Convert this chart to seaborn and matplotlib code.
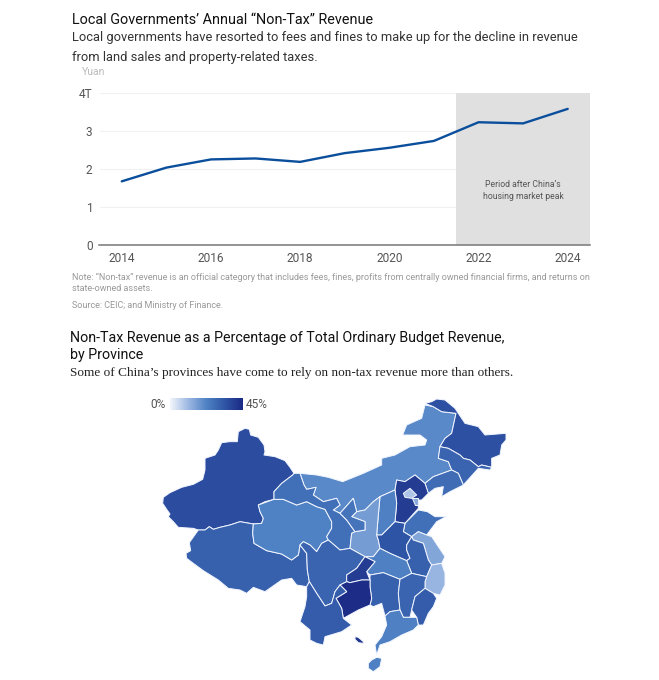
import matplotlib
matplotlib.use("Agg")
import matplotlib.pyplot as plt
import numpy as np
import pandas as pd
import seaborn as sns
from matplotlib.patches import Polygon

W, H = 659, 680

years = [2014, 2015, 2016, 2017, 2018, 2019, 2020, 2021, 2022, 2023, 2024]
revenue = [1.67, 2.03, 2.245, 2.27, 2.18, 2.41, 2.55, 2.73, 3.22, 3.19, 3.57]
peak_year = 2021.5
x_ticks = [2014, 2016, 2018, 2020, 2022, 2024]
y_ticks = [0, 1, 2, 3, 4]
y_labels = ["0", "1", "2", "3", "4T"]

# share of non-tax revenue, percent (read from the shade of each province)
shares = {
    "Inner Mongolia": 21, "Xinjiang": 36, "Tibet": 31, "Qinghai": 22.5, "Gansu": 27,
    "Heilongjiang": 35, "Jilin": 30, "Liaoning": 28, "Hebei": 40, "Beijing": 9,
    "Tianjin": 14, "Shanxi": 23, "Shaanxi": 17, "Ningxia": 26, "Shandong": 27,
    "Henan": 34, "Jiangsu": 15, "Anhui": 31, "Zhejiang": 12, "Hubei": 23,
    "Hunan": 31, "Jiangxi": 30, "Fujian": 32, "Guangdong": 23, "Hainan": 23,
    "Sichuan": 30, "Chongqing": 40, "Guizhou": 44, "Yunnan": 32, "Beihai": 42,
}

# province outlines, traced in map units
xinjiang = [(285, 115), (298, 118), (302, 135), (325, 142), (342, 165), (345, 185), (342, 195), (375, 200),
            (405, 212), (420, 232), (432, 250), (428, 255), (395, 280), (372, 305), (372, 328), (345, 335),
            (325, 345), (330, 365), (340, 385), (335, 400), (310, 402), (270, 395), (240, 405), (210, 412),
            (190, 418), (178, 410), (165, 420), (145, 420), (130, 415), (85, 412), (70, 395), (55, 380),
            (60, 372), (50, 358), (38, 340), (40, 322), (60, 308), (95, 292), (130, 283), (158, 268),
            (165, 240), (165, 205), (195, 195), (205, 180), (215, 158), (240, 155), (262, 155), (265, 125)]
tibet = [(108, 490), (122, 482), (118, 458), (145, 420), (165, 420), (178, 410), (190, 418), (210, 412), (240, 405),
         (270, 395), (310, 402), (308, 430), (312, 460), (350, 482), (395, 492), (425, 510), (445, 495),
         (450, 465), (470, 490), (472, 540), (478, 575), (470, 590), (440, 585), (425, 565), (395, 570),
         (345, 605), (310, 592), (290, 610), (270, 600), (235, 595), (205, 570), (160, 542), (130, 520),
         (110, 505)]
qinghai = [(325, 345), (372, 328), (400, 328), (440, 345), (470, 335), (500, 350), (525, 358), (545, 395),
           (545, 415), (530, 440), (535, 450), (515, 460), (500, 485), (480, 465), (460, 455), (450, 465),
           (445, 495), (425, 510), (395, 492), (350, 482), (312, 460), (308, 430), (310, 402), (335, 400),
           (340, 385), (330, 365)]
gansu = [(432, 250), (450, 250), (462, 285), (470, 298), (498, 292), (490, 315), (520, 335), (560, 325),
         (570, 345), (550, 360), (570, 370), (590, 390), (615, 425), (605, 430), (600, 475), (570, 480),
         (535, 450), (530, 440), (545, 415), (545, 395), (525, 358), (500, 350), (470, 335), (440, 345),
         (400, 328), (372, 328), (372, 305), (395, 280), (428, 255)]
inner_mongolia = [(450, 250), (500, 255), (535, 262), (578, 275), (640, 250), (695, 225), (695, 205), (735, 195),
                  (780, 170), (825, 165), (830, 150), (810, 135), (758, 135), (770, 105), (815, 85), (825, 45),
                  (850, 50), (875, 65), (918, 70), (905, 130), (885, 145), (870, 170), (865, 205), (895, 215),
                  (905, 240), (850, 260), (825, 280), (795, 255), (765, 275), (740, 270), (735, 300), (690, 320),
                  (670, 335), (645, 360), (620, 365), (610, 325), (570, 370), (550, 360), (570, 345), (560, 325),
                  (520, 335), (490, 315), (498, 292), (470, 298), (462, 285)]
heilongjiang = [(825, 40), (845, 35), (860, 27), (885, 30), (915, 55), (945, 100), (985, 110), (1005, 135), (1068, 130),
                (1068, 150), (1055, 165), (1050, 195), (1025, 205), (1025, 232), (995, 225), (985, 230), (960, 210),
                (940, 205), (930, 195), (895, 175), (870, 170), (885, 145), (905, 130), (918, 70), (875, 65), (850, 50)]
jilin = [(870, 170), (895, 175), (930, 195), (940, 205), (960, 210), (985, 230), (995, 225), (1025, 232), (1020, 240),
         (985, 235), (940, 285), (925, 250), (905, 240), (895, 215), (865, 205)]
liaoning = [(825, 280), (850, 260), (905, 240), (925, 250), (940, 285), (900, 305), (875, 320), (880, 290),
            (855, 295), (835, 310)]
hebei = [(740, 270), (765, 275), (795, 255), (825, 280), (835, 310), (815, 330), (805, 330), (805, 355),
         (765, 400), (735, 395), (740, 340), (735, 300)]
beijing = [(760, 310), (780, 295), (800, 315), (785, 325), (765, 322)]
tianjin = [(785, 325), (805, 325), (805, 345), (795, 345)]
shanxi = [(690, 320), (735, 300), (740, 340), (735, 395), (695, 435), (680, 435), (685, 375)]
shaanxi = [(690, 320), (685, 375), (680, 435), (685, 450), (690, 475), (670, 500), (645, 500), (600, 475), (605, 430),
           (615, 425), (645, 420), (645, 395), (605, 380), (620, 365), (645, 360), (670, 335)]
ningxia = [(570, 370), (610, 325), (620, 365), (605, 380), (645, 395), (645, 420), (615, 425), (590, 390)]
shandong = [(765, 400), (805, 360), (832, 365), (855, 380), (888, 380), (860, 395), (830, 435), (805, 425),
            (785, 440), (760, 425)]
henan = [(680, 435), (695, 435), (735, 395), (765, 400), (760, 425), (785, 440), (770, 465), (770, 480),
         (780, 505), (770, 512), (720, 490), (690, 475), (685, 450)]
jiangsu = [(785, 440), (805, 425), (830, 435), (845, 440), (885, 500), (875, 520), (845, 525), (835, 510),
           (820, 460), (790, 450)]
anhui = [(770, 465), (785, 440), (790, 450), (820, 460), (835, 510), (845, 525), (830, 560), (785, 550), (770, 512),
         (780, 505), (770, 480)]
zhejiang = [(845, 525), (875, 520), (885, 550), (885, 585), (870, 615), (850, 610), (825, 595), (825, 575), (830, 560)]
hubei = [(645, 500), (670, 500), (690, 475), (720, 490), (770, 512), (785, 550), (750, 568), (700, 548),
         (660, 555), (650, 545), (675, 515)]
hunan = [(660, 555), (700, 548), (750, 568), (745, 610), (750, 660), (720, 665), (705, 678), (695, 640),
         (670, 650), (660, 645), (665, 625), (660, 590), (660, 570)]
jiangxi = [(750, 568), (785, 550), (830, 560), (825, 575), (825, 595), (795, 620), (785, 660), (780, 682),
           (760, 682), (750, 660), (745, 610)]
fujian = [(825, 595), (850, 610), (860, 625), (850, 650), (835, 670), (820, 705), (805, 705), (800, 682),
          (785, 660), (795, 620)]
guangdong = [(705, 678), (720, 665), (750, 660), (760, 682), (780, 682), (800, 682), (805, 705), (790, 720),
             (755, 735), (720, 755), (690, 765), (680, 795), (675, 765), (695, 740), (710, 705)]
hainan = [(665, 810), (680, 802), (695, 805), (690, 830), (670, 845), (655, 835), (655, 820)]
beihai = [(615, 740), (625, 742), (640, 755), (640, 760), (625, 758), (615, 748)]
sichuan = [(450, 465), (460, 455), (480, 465), (500, 485), (515, 460), (535, 450), (570, 480), (600, 475),
           (645, 500), (620, 535), (590, 555), (590, 575), (570, 585), (555, 605), (545, 640), (525, 648),
           (500, 610), (478, 575), (472, 540), (470, 490)]
chongqing = [(645, 500), (675, 515), (650, 545), (660, 570), (635, 570), (600, 578), (590, 575), (590, 555), (620, 535)]
guizhou = [(590, 575), (600, 578), (635, 570), (660, 570), (660, 590), (665, 625), (660, 645), (625, 660), (580, 685),
           (575, 655), (558, 625), (590, 605), (570, 585)]
yunnan = [(470, 590), (478, 575), (500, 610), (525, 648), (545, 640), (555, 605), (570, 585), (590, 605),
          (558, 625), (575, 655), (580, 685), (605, 705), (575, 725), (525, 740), (520, 765), (500, 760),
          (480, 750), (480, 720), (450, 695), (465, 650), (470, 620)]

outlines = {
    "Inner Mongolia": inner_mongolia, "Xinjiang": xinjiang, "Tibet": tibet, "Qinghai": qinghai, "Gansu": gansu,
    "Heilongjiang": heilongjiang, "Jilin": jilin, "Liaoning": liaoning, "Hebei": hebei, "Beijing": beijing,
    "Tianjin": tianjin, "Shanxi": shanxi, "Shaanxi": shaanxi, "Ningxia": ningxia, "Shandong": shandong,
    "Henan": henan, "Jiangsu": jiangsu, "Anhui": anhui, "Zhejiang": zhejiang, "Hubei": hubei,
    "Hunan": hunan, "Jiangxi": jiangxi, "Fujian": fujian, "Guangdong": guangdong, "Hainan": hainan,
    "Sichuan": sichuan, "Chongqing": chongqing, "Guizhou": guizhou, "Yunnan": yunnan, "Beihai": beihai,
}

sns.set_theme(style="white")
plt.rcParams["font.family"] = ["Roboto", "DejaVu Sans"]


def box(left, top, right, bottom):
    return [left / W, 1 - bottom / H, (right - left) / W, (bottom - top) / H]


def label(x, y, s, **kw):
    fig.text(x / W, 1 - y / H, s, va="center", **kw)


fig = plt.figure(figsize=(W / 100, H / 100), dpi=100)

# line chart
ax = fig.add_axes(box(99.5, 92.5, 590, 245))
df = pd.DataFrame({"year": years, "revenue": revenue})
ax.axvspan(peak_year, 2024.5, color="#e0e0e0", lw=0, zorder=1)
sns.lineplot(data=df, x="year", y="revenue", color="#0b4f9c", linewidth=1.7, ax=ax, zorder=3)
ax.set_xlim(2013.5, 2024.5)
ax.set_ylim(0, 4)
ax.set_xticks(x_ticks)
ax.set_yticks(y_ticks, y_labels)
ax.set_xlabel("")
ax.set_ylabel("")
ax.grid(axis="y", color="#f0f0f0", lw=0.8)
ax.set_axisbelow(True)
sns.despine(ax=ax, left=True)
ax.spines["bottom"].set_color("#777777")
ax.spines["bottom"].set_linewidth(1.1)
ax.tick_params(axis="both", length=0, labelsize=8.6, labelcolor="#555555", pad=5)
ax.text(2023, 1.43, "Period after China’s\nhousing market peak", fontsize=6.2, color="#555555",
        ha="center", va="center", linespacing=1.3)

label(72, 20, "Local Governments’ Annual “Non-Tax” Revenue", fontsize=10.4, color="#111111")
label(72, 38, "Local governments have resorted to fees and fines to make up for the decline in revenue",
      fontsize=9.3, color="#333333")
label(72, 57, "from land sales and property-related taxes.", fontsize=9.3, color="#333333")
label(82, 72, "Yuan", fontsize=7.5, color="#bbbbbb")
label(72, 277, "Note: “Non-tax” revenue is an official category that includes fees, fines, profits from centrally owned financial firms, and returns on",
      fontsize=6.5, color="#999999")
label(72, 288, "state-owned assets.", fontsize=6.5, color="#999999")
label(72, 305, "Source: CEIC; and Ministry of Finance.", fontsize=6.5, color="#999999")

label(70, 338, "Non-Tax Revenue as a Percentage of Total Ordinary Budget Revenue,", fontsize=10.3, color="#111111")
label(70, 355, "by Province", fontsize=10.3, color="#111111")
label(70, 373, "Some of China’s provinces have come to rely on non-tax revenue more than others.",
      fontsize=9.5, color="#222222", family="Liberation Serif")

# choropleth
cmap = sns.blend_palette(["#f4f6fc", "#9db8e2", "#4f82c4", "#2f55a6", "#1b2a84"], as_cmap=True)
map_ax = fig.add_axes(box(150, 390, 520, 680))
for name, outline in outlines.items():
    map_ax.add_patch(Polygon(outline, closed=True, facecolor=cmap(shares[name] / 45),
                             edgecolor="#f2f6ff", linewidth=0.7, joinstyle="round"))
map_ax.set_xlim(0, 1110)
map_ax.set_ylim(870, 0)
map_ax.axis("off")

# legend gradient
bar_ax = fig.add_axes(box(170, 398, 243, 410))
bar_ax.imshow(np.linspace(0, 1, 256).reshape(1, -1), cmap=cmap, aspect="auto")
bar_ax.axis("off")
label(166, 404, "0%", fontsize=8.6, color="#555555", ha="right")
label(246, 404, "45%", fontsize=8.6, color="#555555")

fig.savefig("out.png", dpi=100, facecolor="white")
